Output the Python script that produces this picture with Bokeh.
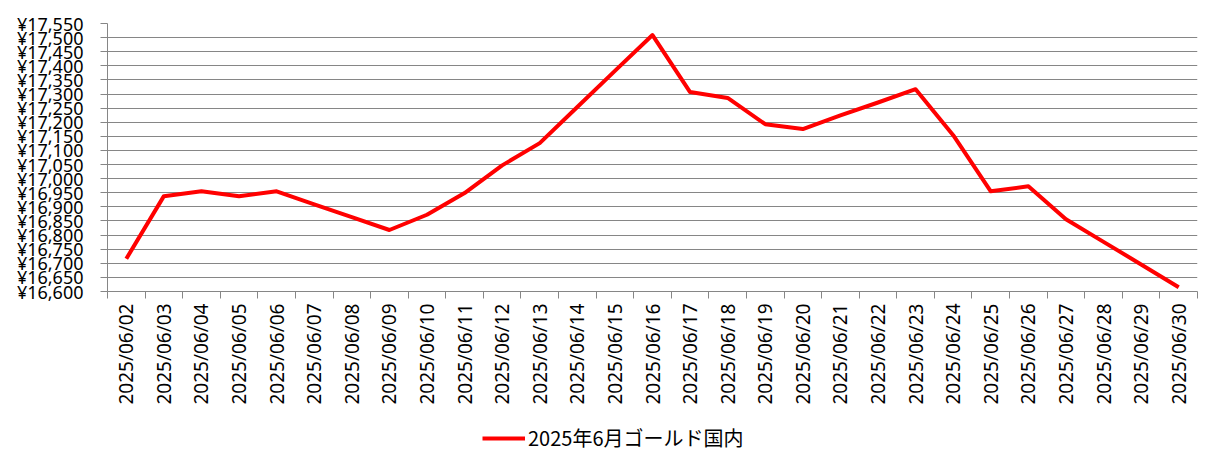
import math
from bokeh.plotting import figure
from bokeh.layouts import column
from bokeh.models import (Range1d, FixedTicker, Legend, LegendItem)
from bokeh.embed import file_html
from bokeh.resources import INLINE

dates = ["2025/06/02", "2025/06/03", "2025/06/04", "2025/06/05", "2025/06/06",
         "2025/06/07", "2025/06/08", "2025/06/09", "2025/06/10", "2025/06/11",
         "2025/06/12", "2025/06/13", "2025/06/14", "2025/06/15", "2025/06/16",
         "2025/06/17", "2025/06/18", "2025/06/19", "2025/06/20", "2025/06/21",
         "2025/06/22", "2025/06/23", "2025/06/24", "2025/06/25", "2025/06/26",
         "2025/06/27", "2025/06/28", "2025/06/29", "2025/06/30"]
prices = [16716, 16938, 16955, 16938, 16955,
          16909, 16864, 16818, 16872, 16949,
          17047, 17126, 17254, 17382, 17509,
          17307, 17286, 17193, 17176, 17224,
          17270, 17317, 17154, 16955, 16973,
          16856, 16776, 16696, 16615]
series_name = "2025年6月ゴールド国内"
y_ticks = list(range(16600, 17551, 50))

FONT = "Noto Sans"
GRID = "#868686"
RED = "#FF0000"

x_pos = [i + 0.5 for i in range(len(dates))]

p = figure(frame_width=1090, frame_height=268, output_backend="svg",
           toolbar_location=None,
           x_range=Range1d(0, len(dates)), y_range=Range1d(16600, 17550),
           min_border_left=107, min_border_right=24, min_border_top=23,
           min_border_bottom=125)
p.outline_line_color = None
p.background_fill_color = "white"
p.border_fill_color = "white"

r = p.line(x_pos, prices, line_color=RED, line_width=4, line_join="round")

# x axis
xa = p.xaxis[0]
xa.ticker = FixedTicker(ticks=x_pos, minor_ticks=list(range(len(dates) + 1)))
xa.major_label_overrides = {x: d for x, d in zip(x_pos, dates)}
xa.major_label_orientation = math.pi / 2
xa.major_tick_line_color = None
xa.minor_tick_in = 0
xa.minor_tick_out = 7
xa.minor_tick_line_color = GRID
xa.axis_line_color = GRID
xa.major_label_text_font = FONT
xa.major_label_text_font_size = "19px"
xa.major_label_text_color = "#000000"
xa.major_label_standoff = 5

# y axis
ya = p.yaxis[0]
ya.ticker = FixedTicker(ticks=y_ticks)
ya.major_label_overrides = {t: "¥{:,}".format(t) for t in y_ticks}
ya.major_tick_in = 0
ya.major_tick_out = 7
ya.major_tick_line_color = GRID
ya.minor_tick_line_color = None
ya.axis_line_color = GRID
ya.major_label_text_font = FONT
ya.major_label_text_font_size = "18px"
ya.major_label_text_color = "#000000"
ya.major_label_standoff = 17

p.xgrid.grid_line_color = None
p.ygrid.grid_line_color = GRID
p.ygrid.grid_line_width = 1

# legend strip below the chart (same series, out of its view; only its key shows)
lg = figure(width=1221, height=54, output_backend="svg", toolbar_location=None,
            x_axis_type=None, y_axis_type=None,
            x_range=Range1d(0, len(dates)), y_range=Range1d(0, 1),
            min_border=0, min_border_left=0, min_border_right=0,
            min_border_top=0, min_border_bottom=0)
lg.outline_line_color = None
lg.xgrid.grid_line_color = None
lg.ygrid.grid_line_color = None
lg.background_fill_color = "white"
lg.border_fill_color = "white"
key = lg.line(x_pos, prices, line_color=RED, line_width=4)

legend = Legend(items=[LegendItem(label=series_name, renderers=[key])],
                location=(375, 18), orientation="horizontal",
                label_text_font="Noto Sans CJK JP", label_text_font_size="20px",
                label_text_color="#000000", glyph_width=43, glyph_height=24,
                label_standoff=3, padding=0, margin=0,
                border_line_color=None, background_fill_alpha=0)
lg.add_layout(legend)

open("out.html", "w").write(file_html(column(p, lg, spacing=0), INLINE))
